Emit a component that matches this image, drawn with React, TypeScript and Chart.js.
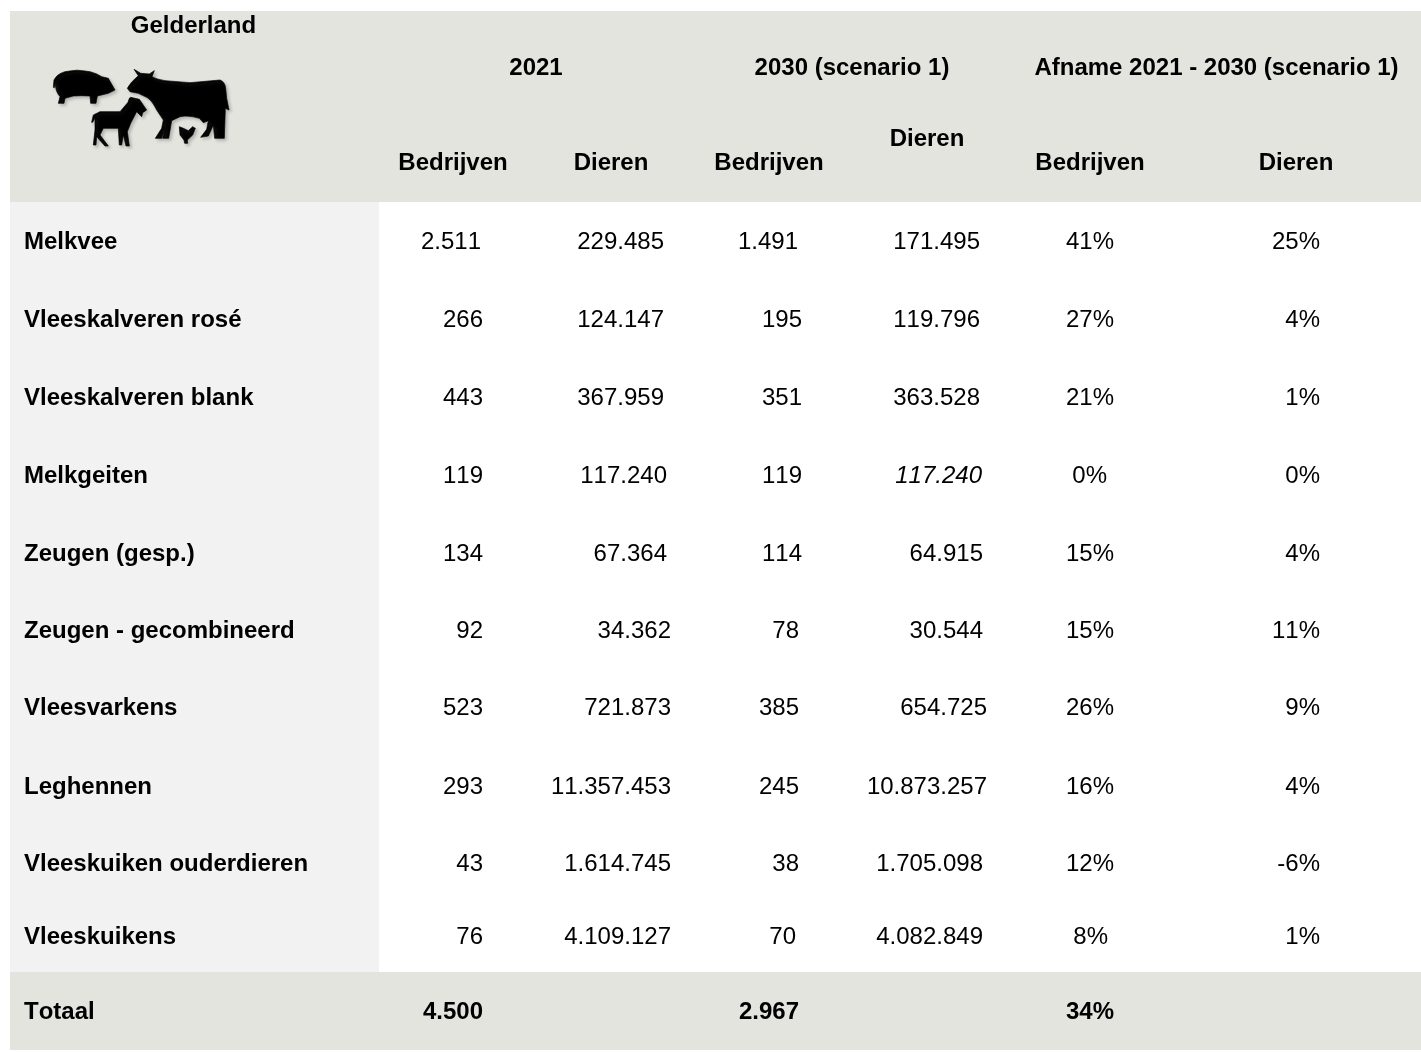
import React, { useEffect, useRef } from "react";
import { Chart, registerables } from "chart.js";

Chart.register(...registerables);

// ---------- Table content ----------
const regionTitle = "Gelderland";
const groupHeaders = ["2021", "2030 (scenario 1)", "Afname 2021 - 2030 (scenario 1)"];
const columnHeaders = ["Bedrijven", "Dieren", "Bedrijven", "Dieren", "Bedrijven", "Dieren"];
const categories = [
  "Melkvee",
  "Vleeskalveren rosé",
  "Vleeskalveren blank",
  "Melkgeiten",
  "Zeugen (gesp.)",
  "Zeugen - gecombineerd",
  "Vleesvarkens",
  "Leghennen",
  "Vleeskuiken ouderdieren",
  "Vleeskuikens",
];
const bedrijven2021 = ["2.511", "266", "443", "119", "134", "92", "523", "293", "43", "76"];
const dieren2021 = ["229.485", "124.147", "367.959", "117.240", "67.364", "34.362", "721.873", "11.357.453", "1.614.745", "4.109.127"];
const bedrijven2030 = ["1.491", "195", "351", "119", "114", "78", "385", "245", "38", "70"];
const dieren2030 = ["171.495", "119.796", "363.528", "117.240", "64.915", "30.544", "654.725", "10.873.257", "1.705.098", "4.082.849"];
const afnameBedrijven = ["41%", "27%", "21%", "0%", "15%", "15%", "26%", "16%", "12%", "8%"];
const afnameDieren = ["25%", "4%", "1%", "0%", "4%", "11%", "9%", "4%", "-6%", "1%"];
const totalLabel = "Totaal";
const totals = ["4.500", "2.967", "34%"];

// ---------- Layout (in axis units) ----------
const rowY = [242, 320, 398, 476, 554, 631, 708, 787, 864, 937];
const totalY = 1012;
const labelX = 24;
const right1 = [481, 483, 483, 483, 483, 483, 483, 483, 483, 483];
const right2 = [664, 664, 664, 667, 667, 671, 671, 671, 671, 671];
const right3 = [798, 802, 802, 802, 802, 799, 799, 799, 799, 796];
const right4 = [980, 980, 980, 982, 983, 983, 987, 987, 983, 983];
const right5 = [1114, 1114, 1114, 1107, 1114, 1114, 1114, 1114, 1114, 1108];
const right6 = [1320, 1320, 1320, 1320, 1320, 1320, 1320, 1320, 1320, 1320];
const totalRight = [483, 799, 1114];
const groupX = [536, 852, 1216.5];
const groupY = 68;
const headerX = [453, 611, 769, 927, 1090, 1296];
const headerY = [163, 163, 163, 139, 163, 163];
const W = 1421;
const H = 1052;

const FAMILY = '"Liberation Sans", Arial, sans-serif';
const bold = `bold 24px ${FAMILY}`;
const normal = `24px ${FAMILY}`;
const italic = `italic 24px ${FAMILY}`;

// Silhouettes, in a 3x local space
const pig = "M40 82 L42 60 Q50 42 75 35 Q110 26 150 35 Q170 40 185 50 L205 55 L210 64 L225 90 L205 100 L172 108 L168 130 L152 130 L150 108 Q125 106 100 108 L75 115 L72 130 L55 130 L60 110 Q46 95 46 70 L43 83 Z";
const cow = "M262 85 Q270 68 295 47 L282 28 L302 40 L328 42 L343 32 L336 50 Q350 58 375 62 L450 68 L540 60 Q555 65 557 85 L560 115 L567 150 L556 145 L553 235 L524 235 L520 195 L505 228 L482 232 L500 208 L505 182 L490 188 L478 175 Q445 165 420 170 L395 182 L386 235 L368 235 L375 205 L365 235 L346 235 L365 205 L370 180 L350 150 Q335 120 320 112 L295 100 L270 95 Z";
const goat = "M155 187 L160 165 L180 155 L240 155 L264 127 L268 115 L272 112 L298 118 L320 150 L308 158 L305 170 L290 155 L272 190 L262 215 L268 258 L258 258 L250 225 L245 255 L238 255 L235 205 L190 205 L180 225 L205 258 L195 258 L170 230 L168 255 L160 255 L165 210 L165 175 L158 187 Z";
const hen = "M418 200 L430 205 L445 212 L458 200 L466 205 L458 225 L442 240 L443 250 L434 250 L432 240 L420 225 Z";

const tablePlugin = {
  id: "tableCells",
  beforeDatasetsDraw(chart: any) {
    const { ctx, scales } = chart;
    const px = (v: number) => scales.x.getPixelForValue(v);
    const py = (v: number) => scales.y.getPixelForValue(v);
    const rect = (x0: number, y0: number, x1: number, y1: number, c: string) => {
      ctx.fillStyle = c;
      ctx.fillRect(px(x0), py(y0), px(x1) - px(x0), py(y1) - py(y0));
    };
    ctx.save();
    rect(10, 11, W, 202, "#E3E4DE");
    rect(10, 202, 379, 972, "#F2F2F2");
    rect(10, 972, W, 1050, "#E3E4DE");

    // animal icon
    ctx.save();
    ctx.translate(px(40), py(60));
    ctx.scale(1 / 3, 1 / 3);
    ctx.fillStyle = "#000";
    ctx.strokeStyle = "#000";
    ctx.lineJoin = "round";
    ctx.lineWidth = 2;
    ctx.shadowColor = "rgba(110,110,110,0.4)";
    ctx.shadowBlur = 3;
    ctx.shadowOffsetX = 2;
    ctx.shadowOffsetY = 2;
    [pig, cow, goat, hen].forEach((d) => {
      const p = new Path2D(d);
      ctx.fill(p);
      ctx.stroke(p);
    });
    ctx.restore();

    ctx.fillStyle = "#000";
    ctx.textBaseline = "middle";
    ctx.fontKerning = "none";
    const text = (s: string, x: number, y: number, font: string, align: string) => {
      ctx.font = font;
      ctx.textAlign = align;
      ctx.fillText(s, px(x), py(y));
    };
    text(regionTitle, 193.5, 26, bold, "center");
    groupHeaders.forEach((s, i) => text(s, groupX[i], groupY, bold, "center"));
    columnHeaders.forEach((s, i) => text(s, headerX[i], headerY[i], bold, "center"));
    categories.forEach((s, i) => text(s, labelX, rowY[i], bold, "left"));
    text(totalLabel, labelX, totalY, bold, "left");
    totals.forEach((s, i) => text(s, totalRight[i], totalY, bold, "right"));
    ctx.restore();
  },
  afterDatasetsDraw(chart: any) {
    const { ctx } = chart;
    ctx.save();
    ctx.fillStyle = "#000";
    ctx.textBaseline = "middle";
    ctx.textAlign = "right";
    ctx.fontKerning = "none";
    chart.data.datasets.forEach((ds: any, di: number) => {
      chart.getDatasetMeta(di).data.forEach((el: any, i: number) => {
        ctx.font = ds.label === "dieren2030" && i === 3 ? italic : normal;
        ctx.fillText(ds.cellText[i], el.x, el.y);
      });
    });
    ctx.restore();
  },
};

const column = (label: string, cellText: string[], rights: number[]) => ({
  label,
  cellText,
  data: rights.map((x, i) => ({ x, y: rowY[i] })),
  pointRadius: 0,
  showLine: false,
});

export default function App() {
  const ref = useRef<HTMLCanvasElement>(null);
  useEffect(() => {
    document.body.style.margin = "0";
    const chart = new Chart(ref.current as HTMLCanvasElement, {
      type: "scatter",
      data: {
        datasets: [
          column("bedrijven2021", bedrijven2021, right1),
          column("dieren2021", dieren2021, right2),
          column("bedrijven2030", bedrijven2030, right3),
          column("dieren2030", dieren2030, right4),
          column("afnameBedrijven", afnameBedrijven, right5),
          column("afnameDieren", afnameDieren, right6),
        ] as any,
      },
      options: {
        animation: false,
        responsive: false,
        devicePixelRatio: 1,
        layout: { padding: 0 },
        plugins: { legend: { display: false }, tooltip: { enabled: false }, title: { display: false } },
        scales: {
          x: { type: "linear", min: 0, max: W, display: false },
          y: { type: "linear", min: 0, max: H, reverse: true, display: false },
        },
      },
      plugins: [tablePlugin as any],
    });
    return () => chart.destroy();
  }, []);
  return <canvas ref={ref} width={W} height={H} style={{ display: "block", background: "#fff" }} />;
}
